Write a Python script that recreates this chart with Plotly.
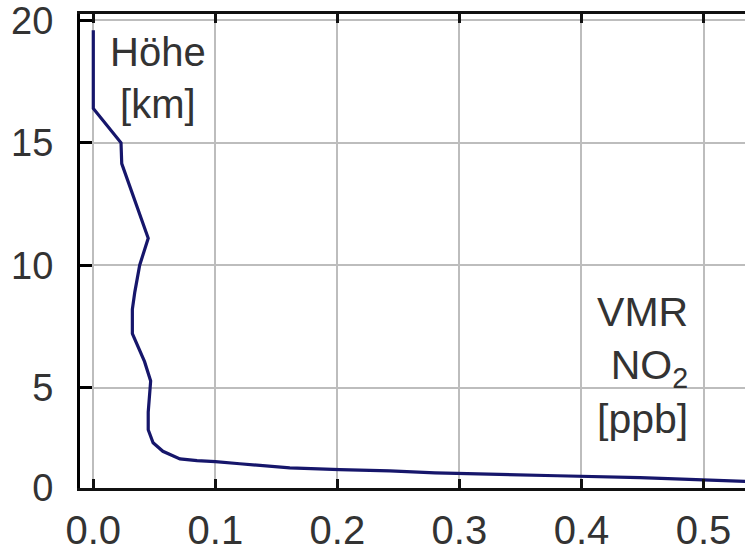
import plotly.graph_objects as go

# NO2 volume mixing ratio profile (ppb) vs altitude (km)
vmr_no2 = [0.0, 0.0, 0.0227, 0.0233, 0.045, 0.038, 0.034, 0.032, 0.032, 0.042,
           0.047, 0.0465, 0.045, 0.045, 0.049, 0.057, 0.071, 0.085, 0.10, 0.12,
           0.161, 0.202, 0.243, 0.28, 0.31, 0.38, 0.448, 0.497, 0.535]
altitude = [19.6, 16.4, 15.0, 14.15, 11.1, 10.0, 8.9, 8.2, 7.2, 6.06,
            5.27, 5.0, 4.0, 3.28, 2.75, 2.4, 2.09, 2.02, 1.98, 1.89,
            1.72, 1.65, 1.6, 1.52, 1.49, 1.4, 1.32, 1.22, 1.17]

x_ticks = [0.0, 0.1, 0.2, 0.3, 0.4, 0.5]
x_ticklabels = ["0.0", "0.1", "0.2", "0.3", "0.4", "0.5"]
y_ticks = [0.9, 5, 10, 15, 20]
y_ticklabels = ["0", "5", "10", "15", "20"]

FONT = "Liberation Sans, Arial, sans-serif"

fig = go.Figure()
fig.add_trace(go.Scatter(
    x=vmr_no2, y=altitude, mode="lines",
    line=dict(color="#16166b", width=3.2),
    showlegend=False,
))

fig.update_layout(
    width=745, height=552,
    margin=dict(l=80, r=0, t=13, b=52),
    paper_bgcolor="white", plot_bgcolor="white",
    font=dict(family=FONT, size=38, color="#333333"),
    xaxis=dict(
        range=[-0.0109, 0.534],
        tickvals=x_ticks, ticktext=x_ticklabels,
        showgrid=True, gridcolor="#bdbdbd", gridwidth=2,
        zeroline=False,
        showline=True, linecolor="#111111", linewidth=3,
        mirror="ticks",
        ticks="inside", ticklen=9, tickwidth=3, tickcolor="#111111",
        tickfont=dict(family=FONT, size=40, color="#333333"),
        ticklabelstandoff=5,
        ticklabeloverflow="allow",
    ),
    yaxis=dict(
        range=[0.9, 20.26],
        tickvals=y_ticks, ticktext=y_ticklabels,
        showgrid=True, gridcolor="#bdbdbd", gridwidth=2,
        zeroline=False,
        showline=True, linecolor="#000000", linewidth=3,
        ticks="inside", ticklen=12, tickwidth=3, tickcolor="#000000",
        tickfont=dict(family=FONT, size=38, color="#333333"),
        ticklabelstandoff=16,
        ticklabeloverflow="allow",
    ),
    annotations=[
        dict(
            text="Höhe<br>[km]", xref="paper", yref="paper",
            x=0.117, y=0.866, xanchor="center", yanchor="middle",
            showarrow=False, align="center",
            font=dict(family=FONT, size=40, color="#333333"),
        ),
        dict(
            text="VMR<br>NO<sub>2</sub><br>[ppb]", xref="paper", yref="paper",
            x=0.918, y=0.258, xanchor="right", yanchor="middle",
            showarrow=False, align="right",
            font=dict(family=FONT, size=41, color="#333333"),
        ),
    ],
)

fig.write_html("out.html")
